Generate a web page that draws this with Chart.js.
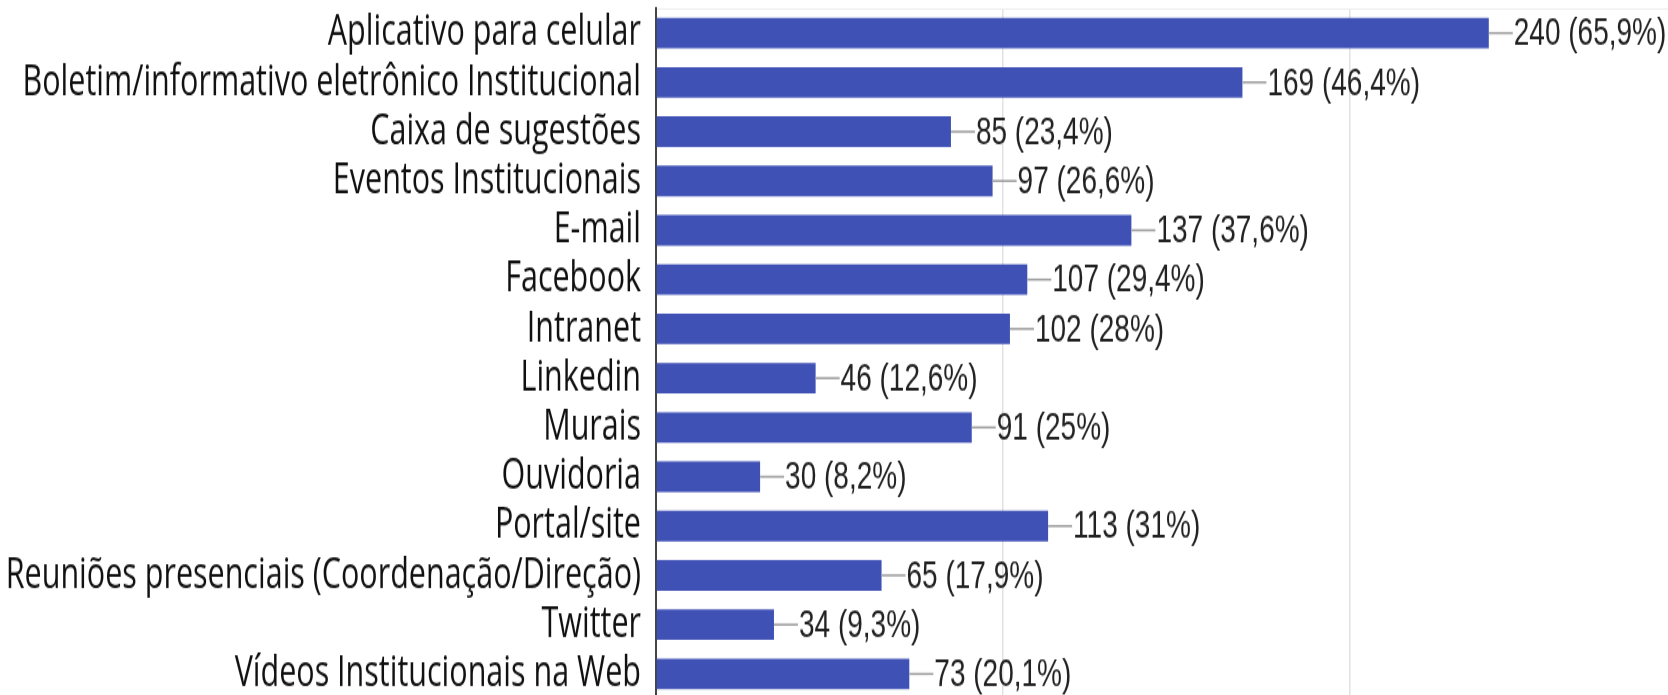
<!DOCTYPE html>
<html>
<head>
<meta charset="utf-8">
<script src="https://cdn.jsdelivr.net/npm/chart.js@4/dist/chart.umd.min.js"></script>
<style>
  html, body { margin: 0; padding: 0; background: #ffffff; }
  body { width: 1668px; height: 695px; overflow: hidden; position: relative; }
  #wrap { position: absolute; left: 0; top: 0; width: 1697px; height: 500px; transform: scaleY(1.4); transform-origin: 0 0; }
</style>
</head>
<body>
<div id="wrap"><canvas id="c" width="1697" height="500"></canvas></div>
<script>
const categories = [
  "Aplicativo para celular",
  "Boletim/informativo eletrônico Institucional",
  "Caixa de sugestões",
  "Eventos Institucionais",
  "E-mail",
  "Facebook",
  "Intranet",
  "Linkedin",
  "Murais",
  "Ouvidoria",
  "Portal/site",
  "Reuniões presenciais (Coordenação/Direção)",
  "Twitter",
  "Vídeos Institucionais na Web"
];
const counts = [240, 169, 85, 97, 137, 107, 102, 46, 91, 30, 113, 65, 34, 73];
const percents = ["65,9", "46,4", "23,4", "26,6", "37,6", "29,4", "28", "12,6", "25", "8,2", "31", "17,9", "9,3", "20,1"];
const xTicks = [0, 100, 200, 300];

const valueLabels = {
  id: 'valueLabels',
  afterDatasetsDraw(chart) {
    const ctx = chart.ctx;
    const meta = chart.getDatasetMeta(0);
    ctx.save();
    meta.data.forEach((bar, i) => {
      const x = bar.x, y = bar.y;
      ctx.strokeStyle = '#9a9a9a';
      ctx.lineWidth = 1.5;
      ctx.beginPath();
      ctx.moveTo(x, y);
      ctx.lineTo(x + 24, y);
      ctx.stroke();
      ctx.fillStyle = '#222222';
      ctx.font = "28px 'Liberation Sans Narrow', 'Arial Narrow', sans-serif";
      ctx.textAlign = 'left';
      ctx.textBaseline = 'middle';
      ctx.fillText(counts[i] + ' (' + percents[i] + '%)', x + 25, y + 1);
    });
    ctx.restore();
  }
};

new Chart(document.getElementById('c'), {
  type: 'bar',
  data: {
    labels: categories,
    datasets: [{
      data: counts,
      backgroundColor: '#3f51b5',
      borderWidth: 0,
      barPercentage: 0.62,
      categoryPercentage: 1.0
    }]
  },
  options: {
    indexAxis: 'y',
    responsive: false,
    animation: false,
    devicePixelRatio: 1,
    layout: { padding: { top: 6, bottom: 1, left: 0, right: 0 } },
    plugins: { legend: { display: false }, tooltip: { enabled: false } },
    scales: {
      x: {
        position: 'top',
        min: xTicks[0],
        max: xTicks[xTicks.length - 1],
        afterBuildTicks(scale) { scale.ticks = xTicks.map(v => ({ value: v })); },
        ticks: { display: false },
        grid: {
          drawTicks: false,
          lineWidth: 1.5,
          color: (c) => (c.tick && c.tick.value === 0) ? 'rgba(0,0,0,0)' : '#e2e2e2'
        },
        border: { display: true, color: '#eeeeee', width: 1 },
        afterFit(scale) { scale.paddingLeft = 0; scale.paddingRight = 0; }
      },
      y: {
        ticks: {
          autoSkip: false,
          padding: 15,
          color: '#111111',
          font: { family: "'Open Sans', sans-serif", size: 30.5 }
        },
        grid: { display: false, drawTicks: false },
        border: { display: true, color: '#444444', width: 2 },
        afterFit(scale) { scale.width = 656; scale.paddingTop = 0; scale.paddingBottom = 0; }
      }
    }
  },
  plugins: [valueLabels]
});
</script>
</body>
</html>
